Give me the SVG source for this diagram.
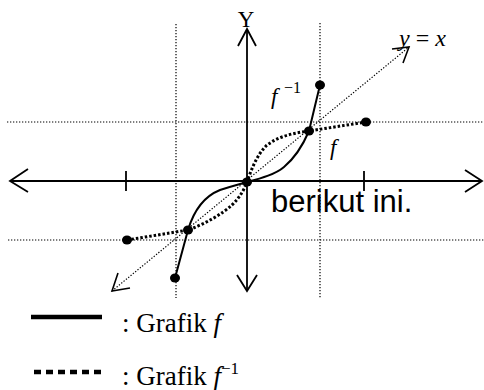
<svg xmlns="http://www.w3.org/2000/svg" width="484" height="390" viewBox="0 0 484 390">
<style>
.grid{stroke:#000;stroke-width:1.2;stroke-dasharray:1.3 1.7;fill:none}
.axis{stroke:#000;stroke-width:1.8;fill:none}
.solid{stroke:#000;stroke-width:2;fill:none}
.dotc{stroke:#000;stroke-width:3;stroke-dasharray:2.5 2;fill:none}
.pt{fill:#000}
.serif{font-family:"Liberation Serif","Times New Roman",serif;fill:#000}
.it{font-style:italic}
.sans{font-family:"Liberation Sans",Arial,sans-serif;fill:#000}
</style>
<rect width="484" height="390" fill="#fff"/>
<g id="grid">
<line class="grid" x1="176" y1="24" x2="176" y2="298"/>
<line class="grid" x1="320" y1="23" x2="320" y2="298"/>
<line class="grid" x1="7" y1="122" x2="484" y2="122"/>
<line class="grid" x1="8" y1="240" x2="484" y2="240"/>
</g>
<g id="axes">
<line class="axis" x1="10" y1="181" x2="482" y2="181"/>
<polyline class="axis" points="28,169 10,181 28,192"/>
<polyline class="axis" points="465,170 482,181 465,192"/>
<line class="axis" x1="126" y1="171" x2="126" y2="191"/>
<line class="axis" x1="364" y1="171" x2="364" y2="191"/>
<line class="axis" x1="247" y1="29" x2="247" y2="291"/>
<polyline class="axis" points="238,46 247,29 256,46"/>
<polyline class="axis" points="237,275 247,291 257,275"/>
</g>
<g id="connectors">
<line class="grid" x1="112" y1="291" x2="409" y2="47"/>
<polyline class="axis" points="392,49 409,47 403,63" style="stroke-width:1.6"/>
<polyline class="axis" points="118,273 112,291 130,288" style="stroke-width:1.6"/>
<path class="solid" d="M175,278 L188,230 C194,210 205,196 220,190 C232,186 240,184 247,182 C262,178 276,174 284,167 C296,157 303,145 309,131 L314,110 L320,85"/>
<path class="dotc" d="M127,240 L188,230 C205,224 222,214 232,205 C240,197 244,190 247,182 C251,170 257,155 266,146 C278,136 294,133 309,131 L366,122"/>
</g>
<g id="points">
<ellipse class="pt" cx="247" cy="182" rx="5" ry="4.5"/>
<ellipse class="pt" cx="309" cy="131" rx="5" ry="4.5"/>
<ellipse class="pt" cx="188" cy="230" rx="5" ry="4.5"/>
<ellipse class="pt" cx="320" cy="85" rx="5" ry="4.5"/>
<ellipse class="pt" cx="366" cy="122" rx="5" ry="4.5"/>
<ellipse class="pt" cx="127" cy="240" rx="5" ry="4.5"/>
<ellipse class="pt" cx="175" cy="278" rx="5" ry="4.5"/>
</g>
<g id="labels">
<text class="serif" x="246" y="27" font-size="23" text-anchor="middle">Y</text>
<text class="serif" x="399" y="46" font-size="24"><tspan class="it">y</tspan> = <tspan class="it">x</tspan></text>
<text class="serif it" x="271" y="104" font-size="23">f</text>
<text class="serif" x="284" y="93" font-size="16">−1</text>
<text class="serif it" x="330" y="155" font-size="23">f</text>
<text class="sans" x="271" y="212" font-size="31">berikut ini.</text>
</g>
<g id="legend">
<line x1="31" y1="317" x2="102" y2="317" stroke="#000" stroke-width="4.5"/>
<text class="serif" x="122" y="332" font-size="27">: Grafik <tspan class="it">f</tspan></text>
<line x1="34" y1="372" x2="101" y2="372" stroke="#000" stroke-width="4.5" stroke-dasharray="7 5"/>
<text class="serif" x="122" y="385" font-size="27">: Grafik <tspan class="it">f</tspan><tspan font-size="17" dy="-11">−1</tspan></text>
</g>
</svg>
